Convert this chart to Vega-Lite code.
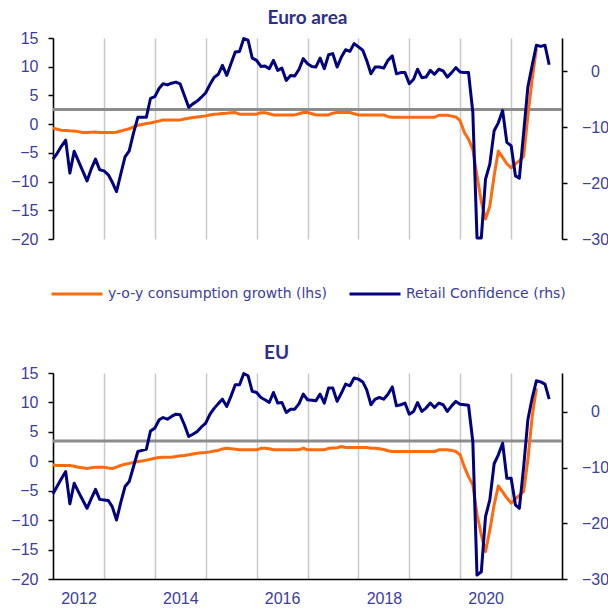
{
"$schema": "https://vega.github.io/schema/vega-lite/v6.json",
"background": "white",
"padding": {"left": 5, "top": 9, "right": 0, "bottom": 0},
"config": {"view": {"stroke": null}, "font": "Liberation Sans"},
"data": {"values": [
{"date":"2012-01-01","ea_cons":-0.7,"ea_conf":-15.7,"eu_cons":-0.65,"eu_conf":-14.7},
{"date":"2012-02-01","ea_cons":-0.9,"ea_conf":-14.6,"eu_cons":-0.7,"eu_conf":-13.3},
{"date":"2012-03-01","ea_cons":-1.05,"ea_conf":-13.4,"eu_cons":-0.7,"eu_conf":-12.0},
{"date":"2012-04-01","ea_cons":-1.1,"ea_conf":-12.3,"eu_cons":-0.72,"eu_conf":-10.7},
{"date":"2012-05-01","ea_cons":-1.15,"ea_conf":-18.2,"eu_cons":-0.72,"eu_conf":-16.5},
{"date":"2012-06-01","ea_cons":-1.18,"ea_conf":-14.3,"eu_cons":-0.85,"eu_conf":-12.8},
{"date":"2012-07-01","ea_cons":-1.3,"ea_conf":-16.0,"eu_cons":-1.0,"eu_conf":-14.3},
{"date":"2012-08-01","ea_cons":-1.45,"ea_conf":-17.8,"eu_cons":-1.1,"eu_conf":-15.8},
{"date":"2012-09-01","ea_cons":-1.45,"ea_conf":-19.6,"eu_cons":-1.23,"eu_conf":-17.3},
{"date":"2012-10-01","ea_cons":-1.4,"ea_conf":-17.5,"eu_cons":-1.1,"eu_conf":-15.6},
{"date":"2012-11-01","ea_cons":-1.35,"ea_conf":-15.7,"eu_cons":-1.0,"eu_conf":-13.9},
{"date":"2012-12-01","ea_cons":-1.45,"ea_conf":-17.6,"eu_cons":-1.0,"eu_conf":-15.7},
{"date":"2013-01-01","ea_cons":-1.47,"ea_conf":-17.8,"eu_cons":-1.0,"eu_conf":-15.8},
{"date":"2013-02-01","ea_cons":-1.47,"ea_conf":-18.5,"eu_cons":-1.15,"eu_conf":-15.9},
{"date":"2013-03-01","ea_cons":-1.47,"ea_conf":-19.8,"eu_cons":-1.23,"eu_conf":-17.0},
{"date":"2013-04-01","ea_cons":-1.4,"ea_conf":-21.5,"eu_cons":-1.0,"eu_conf":-19.4},
{"date":"2013-05-01","ea_cons":-1.2,"ea_conf":-18.4,"eu_cons":-0.7,"eu_conf":-16.3},
{"date":"2013-06-01","ea_cons":-1.0,"ea_conf":-15.3,"eu_cons":-0.5,"eu_conf":-13.4},
{"date":"2013-07-01","ea_cons":-0.8,"ea_conf":-14.2,"eu_cons":-0.35,"eu_conf":-12.5},
{"date":"2013-08-01","ea_cons":-0.5,"ea_conf":-11.0,"eu_cons":-0.2,"eu_conf":-9.8},
{"date":"2013-09-01","ea_cons":-0.2,"ea_conf":-8.2,"eu_cons":-0.05,"eu_conf":-7.1},
{"date":"2013-10-01","ea_cons":-0.05,"ea_conf":-8.2,"eu_cons":0.05,"eu_conf":-6.9},
{"date":"2013-11-01","ea_cons":0.1,"ea_conf":-8.2,"eu_cons":0.2,"eu_conf":-6.7},
{"date":"2013-12-01","ea_cons":0.2,"ea_conf":-4.8,"eu_cons":0.35,"eu_conf":-3.4},
{"date":"2014-01-01","ea_cons":0.4,"ea_conf":-4.5,"eu_cons":0.5,"eu_conf":-2.9},
{"date":"2014-02-01","ea_cons":0.55,"ea_conf":-3.0,"eu_cons":0.65,"eu_conf":-1.4},
{"date":"2014-03-01","ea_cons":0.74,"ea_conf":-2.2,"eu_cons":0.7,"eu_conf":-1.0},
{"date":"2014-04-01","ea_cons":0.74,"ea_conf":-2.4,"eu_cons":0.7,"eu_conf":-1.3},
{"date":"2014-05-01","ea_cons":0.74,"ea_conf":-2.1,"eu_cons":0.7,"eu_conf":-0.8},
{"date":"2014-06-01","ea_cons":0.74,"ea_conf":-1.9,"eu_cons":0.8,"eu_conf":-0.4},
{"date":"2014-07-01","ea_cons":0.74,"ea_conf":-2.2,"eu_cons":0.93,"eu_conf":-0.5},
{"date":"2014-08-01","ea_cons":0.9,"ea_conf":-4.3,"eu_cons":1.0,"eu_conf":-2.3},
{"date":"2014-09-01","ea_cons":1.03,"ea_conf":-6.4,"eu_cons":1.1,"eu_conf":-4.4},
{"date":"2014-10-01","ea_cons":1.15,"ea_conf":-5.8,"eu_cons":1.25,"eu_conf":-4.0},
{"date":"2014-11-01","ea_cons":1.26,"ea_conf":-5.3,"eu_cons":1.38,"eu_conf":-3.5},
{"date":"2014-12-01","ea_cons":1.35,"ea_conf":-4.6,"eu_cons":1.45,"eu_conf":-2.7},
{"date":"2015-01-01","ea_cons":1.44,"ea_conf":-3.8,"eu_cons":1.49,"eu_conf":-2.0},
{"date":"2015-02-01","ea_cons":1.6,"ea_conf":-2.3,"eu_cons":1.6,"eu_conf":-0.4},
{"date":"2015-03-01","ea_cons":1.73,"ea_conf":-1.1,"eu_cons":1.75,"eu_conf":0.6},
{"date":"2015-04-01","ea_cons":1.75,"ea_conf":-0.5,"eu_cons":1.85,"eu_conf":1.5},
{"date":"2015-05-01","ea_cons":1.85,"ea_conf":1.1,"eu_cons":2.1,"eu_conf":2.3},
{"date":"2015-06-01","ea_cons":1.9,"ea_conf":-0.7,"eu_cons":2.23,"eu_conf":1.0},
{"date":"2015-07-01","ea_cons":2.0,"ea_conf":1.4,"eu_cons":2.15,"eu_conf":2.8},
{"date":"2015-08-01","ea_cons":2.02,"ea_conf":3.5,"eu_cons":2.05,"eu_conf":4.9},
{"date":"2015-09-01","ea_cons":1.73,"ea_conf":3.6,"eu_cons":1.95,"eu_conf":4.9},
{"date":"2015-10-01","ea_cons":1.73,"ea_conf":5.9,"eu_cons":1.95,"eu_conf":6.9},
{"date":"2015-11-01","ea_cons":1.73,"ea_conf":5.6,"eu_cons":1.95,"eu_conf":6.5},
{"date":"2015-12-01","ea_cons":1.73,"ea_conf":2.4,"eu_cons":1.95,"eu_conf":3.7},
{"date":"2016-01-01","ea_cons":1.73,"ea_conf":2.0,"eu_cons":1.95,"eu_conf":3.5},
{"date":"2016-02-01","ea_cons":2.0,"ea_conf":0.9,"eu_cons":2.2,"eu_conf":2.6},
{"date":"2016-03-01","ea_cons":2.0,"ea_conf":1.0,"eu_cons":2.2,"eu_conf":2.2},
{"date":"2016-04-01","ea_cons":1.8,"ea_conf":0.5,"eu_cons":2.12,"eu_conf":1.7},
{"date":"2016-05-01","ea_cons":1.61,"ea_conf":2.0,"eu_cons":1.95,"eu_conf":3.5},
{"date":"2016-06-01","ea_cons":1.61,"ea_conf":0.2,"eu_cons":1.95,"eu_conf":1.6},
{"date":"2016-07-01","ea_cons":1.61,"ea_conf":0.6,"eu_cons":1.95,"eu_conf":1.7},
{"date":"2016-08-01","ea_cons":1.61,"ea_conf":-1.6,"eu_cons":1.95,"eu_conf":-0.1},
{"date":"2016-09-01","ea_cons":1.61,"ea_conf":-0.7,"eu_cons":1.95,"eu_conf":0.5},
{"date":"2016-10-01","ea_cons":1.61,"ea_conf":-0.8,"eu_cons":1.95,"eu_conf":0.5},
{"date":"2016-11-01","ea_cons":1.8,"ea_conf":0.4,"eu_cons":1.95,"eu_conf":1.5},
{"date":"2016-12-01","ea_cons":2.02,"ea_conf":2.3,"eu_cons":2.23,"eu_conf":3.2},
{"date":"2017-01-01","ea_cons":2.02,"ea_conf":1.4,"eu_cons":1.95,"eu_conf":2.2},
{"date":"2017-02-01","ea_cons":1.8,"ea_conf":0.9,"eu_cons":1.95,"eu_conf":2.1},
{"date":"2017-03-01","ea_cons":1.61,"ea_conf":0.8,"eu_cons":1.95,"eu_conf":2.0},
{"date":"2017-04-01","ea_cons":1.61,"ea_conf":2.4,"eu_cons":1.95,"eu_conf":3.2},
{"date":"2017-05-01","ea_cons":1.61,"ea_conf":0.5,"eu_cons":1.95,"eu_conf":1.6},
{"date":"2017-06-01","ea_cons":1.61,"ea_conf":3.0,"eu_cons":2.2,"eu_conf":4.3},
{"date":"2017-07-01","ea_cons":1.9,"ea_conf":3.2,"eu_cons":2.25,"eu_conf":4.3},
{"date":"2017-08-01","ea_cons":2.02,"ea_conf":0.8,"eu_cons":2.3,"eu_conf":1.9},
{"date":"2017-09-01","ea_cons":2.02,"ea_conf":2.6,"eu_cons":2.5,"eu_conf":3.4},
{"date":"2017-10-01","ea_cons":2.02,"ea_conf":3.9,"eu_cons":2.34,"eu_conf":5.0},
{"date":"2017-11-01","ea_cons":2.02,"ea_conf":3.6,"eu_cons":2.34,"eu_conf":4.7},
{"date":"2017-12-01","ea_cons":1.8,"ea_conf":5.0,"eu_cons":2.34,"eu_conf":6.1},
{"date":"2018-01-01","ea_cons":1.61,"ea_conf":4.4,"eu_cons":2.34,"eu_conf":5.9},
{"date":"2018-02-01","ea_cons":1.61,"ea_conf":3.8,"eu_cons":2.34,"eu_conf":5.4},
{"date":"2018-03-01","ea_cons":1.61,"ea_conf":2.0,"eu_cons":2.34,"eu_conf":4.0},
{"date":"2018-04-01","ea_cons":1.61,"ea_conf":-0.4,"eu_cons":2.23,"eu_conf":1.3},
{"date":"2018-05-01","ea_cons":1.61,"ea_conf":0.8,"eu_cons":2.2,"eu_conf":2.3},
{"date":"2018-06-01","ea_cons":1.61,"ea_conf":0.8,"eu_cons":2.12,"eu_conf":2.6},
{"date":"2018-07-01","ea_cons":1.61,"ea_conf":0.6,"eu_cons":2.0,"eu_conf":2.3},
{"date":"2018-08-01","ea_cons":1.3,"ea_conf":2.0,"eu_cons":1.78,"eu_conf":3.2},
{"date":"2018-09-01","ea_cons":1.2,"ea_conf":2.8,"eu_cons":1.66,"eu_conf":4.5},
{"date":"2018-10-01","ea_cons":1.2,"ea_conf":-0.4,"eu_cons":1.66,"eu_conf":1.1},
{"date":"2018-11-01","ea_cons":1.2,"ea_conf":-0.2,"eu_cons":1.66,"eu_conf":1.3},
{"date":"2018-12-01","ea_cons":1.2,"ea_conf":-0.2,"eu_cons":1.66,"eu_conf":1.6},
{"date":"2019-01-01","ea_cons":1.2,"ea_conf":-2.2,"eu_cons":1.66,"eu_conf":-0.4},
{"date":"2019-02-01","ea_cons":1.2,"ea_conf":-1.4,"eu_cons":1.66,"eu_conf":0.1},
{"date":"2019-03-01","ea_cons":1.2,"ea_conf":0.4,"eu_cons":1.66,"eu_conf":1.7},
{"date":"2019-04-01","ea_cons":1.2,"ea_conf":-1.1,"eu_cons":1.66,"eu_conf":0.1},
{"date":"2019-05-01","ea_cons":1.2,"ea_conf":-1.0,"eu_cons":1.66,"eu_conf":0.7},
{"date":"2019-06-01","ea_cons":1.2,"ea_conf":0.2,"eu_cons":1.66,"eu_conf":1.6},
{"date":"2019-07-01","ea_cons":1.2,"ea_conf":-0.5,"eu_cons":1.66,"eu_conf":0.8},
{"date":"2019-08-01","ea_cons":1.55,"ea_conf":0.4,"eu_cons":1.95,"eu_conf":1.6},
{"date":"2019-09-01","ea_cons":1.55,"ea_conf":0.1,"eu_cons":1.95,"eu_conf":1.3},
{"date":"2019-10-01","ea_cons":1.55,"ea_conf":-1.0,"eu_cons":1.95,"eu_conf":0.1},
{"date":"2019-11-01","ea_cons":1.4,"ea_conf":-0.2,"eu_cons":1.85,"eu_conf":1.1},
{"date":"2019-12-01","ea_cons":1.26,"ea_conf":0.7,"eu_cons":1.66,"eu_conf":1.9},
{"date":"2020-01-01","ea_cons":0.6,"ea_conf":-0.1,"eu_cons":1.1,"eu_conf":1.4},
{"date":"2020-02-01","ea_cons":-1.5,"ea_conf":-0.2,"eu_cons":-1.0,"eu_conf":1.3},
{"date":"2020-03-01","ea_cons":-2.6,"ea_conf":-0.2,"eu_cons":-2.6,"eu_conf":1.2},
{"date":"2020-04-01","ea_cons":-4.4,"ea_conf":-7.3,"eu_cons":-4.0,"eu_conf":-5.3},
{"date":"2020-05-01","ea_cons":-9.0,"ea_conf":-29.8,"eu_cons":-9.0,"eu_conf":-29.3},
{"date":"2020-06-01","ea_cons":-13.5,"ea_conf":-29.8,"eu_cons":-12.5,"eu_conf":-28.7},
{"date":"2020-07-01","ea_cons":-16.5,"ea_conf":-19.3,"eu_cons":-15.35,"eu_conf":-18.8},
{"date":"2020-08-01","ea_cons":-14.3,"ea_conf":-16.6,"eu_cons":-11.7,"eu_conf":-15.8},
{"date":"2020-09-01","ea_cons":-9.0,"ea_conf":-10.6,"eu_cons":-7.4,"eu_conf":-9.3},
{"date":"2020-10-01","ea_cons":-4.7,"ea_conf":-9.2,"eu_cons":-4.2,"eu_conf":-7.7},
{"date":"2020-11-01","ea_cons":-5.8,"ea_conf":-7.0,"eu_cons":-5.2,"eu_conf":-5.6},
{"date":"2020-12-01","ea_cons":-6.9,"ea_conf":-12.7,"eu_cons":-6.2,"eu_conf":-11.9},
{"date":"2021-01-01","ea_cons":-7.6,"ea_conf":-13.3,"eu_cons":-7.1,"eu_conf":-11.9},
{"date":"2021-02-01","ea_cons":-6.9,"ea_conf":-18.7,"eu_cons":-6.4,"eu_conf":-16.7},
{"date":"2021-03-01","ea_cons":-6.4,"ea_conf":-19.1,"eu_cons":-5.8,"eu_conf":-17.3},
{"date":"2021-04-01","ea_cons":-5.6,"ea_conf":-10.9,"eu_cons":-5.1,"eu_conf":-9.8},
{"date":"2021-05-01","ea_cons":1.4,"ea_conf":-2.8,"eu_cons":0.25,"eu_conf":-1.4},
{"date":"2021-06-01","ea_cons":7.8,"ea_conf":1.1,"eu_cons":7.6,"eu_conf":2.5},
{"date":"2021-07-01","ea_cons":13.1,"ea_conf":4.7,"eu_cons":12.4,"eu_conf":5.6},
{"date":"2021-08-01","ea_cons":null,"ea_conf":4.5,"eu_cons":null,"eu_conf":5.4},
{"date":"2021-09-01","ea_cons":null,"ea_conf":4.7,"eu_cons":null,"eu_conf":5.0},
{"date":"2021-10-01","ea_cons":null,"ea_conf":1.2,"eu_cons":null,"eu_conf":2.3}
]},
"spacing": 97,
"vconcat": [
{
 "width": 509, "height": 201,
 "title": {"text": "Euro area", "font": "Lato", "fontSize": 19, "fontWeight": "bold", "color": "#2E2E8B", "offset": 2},
 "layer": [
  {"layer": [
    {"data": {"values": [{"avg": 2.54}]},
     "mark": {"type": "rule", "color": "#8C8C8C", "strokeWidth": 3},
     "encoding": {"y": {"field": "avg", "type": "quantitative", "scale": {"domain": [-20, 15], "nice": false, "zero": false},
        "axis": {"orient": "left", "values": [-20,-15,-10,-5,0,5,10,15], "title": null, "grid": false, "domainColor": "#000000", "domainWidth": 1.5, "tickColor": "#000000", "tickWidth": 1.5, "tickSize": 5, "labelFontSize": 16, "labelColor": "#3C3C9E", "labelPadding": 10, "minExtent": 48, "maxExtent": 48, "labelFont": "Liberation Sans"}}}},
    {"mark": {"type": "line", "strokeWidth": 3, "strokeJoin": "round"},
     "encoding": {
      "x": {"field": "date", "type": "temporal", "scale": {"domain": [{"year": 2012, "month": 1, "date": 1}, {"year": 2022, "month": 1, "date": 1}]},
        "axis": {"values": [{"year":2012,"month":1,"date":1},{"year":2013,"month":1,"date":1},{"year":2014,"month":1,"date":1},{"year":2015,"month":1,"date":1},{"year":2016,"month":1,"date":1},{"year":2017,"month":1,"date":1},{"year":2018,"month":1,"date":1},{"year":2019,"month":1,"date":1},{"year":2020,"month":1,"date":1},{"year":2021,"month":1,"date":1},{"year":2022,"month":1,"date":1}], "grid": true, "gridColor": "#C8C8C8", "gridWidth": 1.5, "labels": false, "ticks": false, "domain": false, "title": null}},
      "y": {"field": "ea_cons", "type": "quantitative", "scale": {"domain": [-20, 15], "nice": false, "zero": false},
        "axis": {"orient": "left", "values": [-20,-15,-10,-5,0,5,10,15], "title": null, "grid": false, "domainColor": "#000000", "domainWidth": 1.5, "tickColor": "#000000", "tickWidth": 1.5, "tickSize": 5, "labelFontSize": 16, "labelColor": "#3C3C9E", "labelPadding": 10, "minExtent": 48, "maxExtent": 48, "labelFont": "Liberation Sans"}},
      "color": {"datum": "y-o-y consumption growth (lhs)", "type": "nominal",
        "scale": {"domain": ["y-o-y consumption growth (lhs)", "Retail Confidence (rhs)"], "range": ["#FF6A0D", "#000080"]},
        "legend": {"orient": "none", "legendX": -3, "legendY": 229, "direction": "horizontal", "title": null, "symbolType": "stroke", "symbolSize": 2600, "symbolStrokeWidth": 3, "labelFont": "DejaVu Sans", "labelFontSize": 14, "labelLimit": 400, "labelColor": "#3C3C9E", "columnPadding": 16, "labelOffset": 4}}
     }}
  ]},
  {"mark": {"type": "line", "strokeWidth": 3, "strokeJoin": "round"},
   "encoding": {
    "x": {"field": "date", "type": "temporal"},
    "y": {"field": "ea_conf", "type": "quantitative", "scale": {"domain": [-30, 6], "nice": false, "zero": false},
      "axis": {"orient": "right", "values": [-30,-20,-10,0], "title": null, "grid": false, "domainColor": "#000000", "domainWidth": 1.5, "tickColor": "#000000", "tickWidth": 1.5, "tickSize": 5, "labelFontSize": 16, "labelColor": "#3C3C9E", "labelAlign": "center", "labelPadding": 28, "labelFont": "Liberation Sans"}},
    "color": {"datum": "Retail Confidence (rhs)", "type": "nominal"}
   }}
 ],
 "resolve": {"scale": {"y": "independent"}, "axis": {"y": "independent"}}
},
{
 "width": 509, "height": 206,
 "title": {"text": "EU", "font": "Lato", "fontSize": 19, "fontWeight": "bold", "color": "#2E2E8B", "offset": 2, "dx": -31},
 "layer": [
  {"layer": [
    {"data": {"values": [{"avg": 3.43}]},
     "mark": {"type": "rule", "color": "#8C8C8C", "strokeWidth": 3},
     "encoding": {"y": {"field": "avg", "type": "quantitative", "scale": {"domain": [-20, 15], "nice": false, "zero": false},
        "axis": {"orient": "left", "values": [-20,-15,-10,-5,0,5,10,15], "title": null, "grid": false, "domainColor": "#000000", "domainWidth": 1.5, "tickColor": "#000000", "tickWidth": 1.5, "tickSize": 5, "labelFontSize": 16, "labelColor": "#3C3C9E", "labelPadding": 10, "minExtent": 48, "maxExtent": 48, "labelFont": "Liberation Sans"}}}},
    {"mark": {"type": "line", "strokeWidth": 3, "strokeJoin": "round", "color": "#FF6A0D"},
     "encoding": {
      "x": {"field": "date", "type": "temporal", "scale": {"domain": [{"year": 2012, "month": 1, "date": 1}, {"year": 2022, "month": 1, "date": 1}]},
        "axis": {"values": [{"year":2012,"month":1,"date":1},{"year":2013,"month":1,"date":1},{"year":2014,"month":1,"date":1},{"year":2015,"month":1,"date":1},{"year":2016,"month":1,"date":1},{"year":2017,"month":1,"date":1},{"year":2018,"month":1,"date":1},{"year":2019,"month":1,"date":1},{"year":2020,"month":1,"date":1},{"year":2021,"month":1,"date":1},{"year":2022,"month":1,"date":1}], "grid": true, "gridColor": "#C8C8C8", "gridWidth": 1.5, "ticks": false, "domain": true, "domainColor": "#000000", "domainWidth": 1.5, "title": null,
          "labelExpr": "(year(datum.value) % 2 == 0 && year(datum.value) < 2021) ? '' + year(datum.value) : ''", "labelOffset": 25.5, "labelFlush": false, "labelOverlap": false, "labelFontSize": 16, "labelColor": "#3C3C9E", "labelPadding": 11, "labelFont": "Liberation Sans"}},
      "y": {"field": "eu_cons", "type": "quantitative", "scale": {"domain": [-20, 15], "nice": false, "zero": false},
        "axis": {"orient": "left", "values": [-20,-15,-10,-5,0,5,10,15], "title": null, "grid": false, "domainColor": "#000000", "domainWidth": 1.5, "tickColor": "#000000", "tickWidth": 1.5, "tickSize": 5, "labelFontSize": 16, "labelColor": "#3C3C9E", "labelPadding": 10, "minExtent": 48, "maxExtent": 48, "labelFont": "Liberation Sans"}}
     }}
  ]},
  {"mark": {"type": "line", "strokeWidth": 3, "strokeJoin": "round", "color": "#000080"},
   "encoding": {
    "x": {"field": "date", "type": "temporal"},
    "y": {"field": "eu_conf", "type": "quantitative", "scale": {"domain": [-30, 7], "nice": false, "zero": false},
      "axis": {"orient": "right", "values": [-30,-20,-10,0], "title": null, "grid": false, "domainColor": "#000000", "domainWidth": 1.5, "tickColor": "#000000", "tickWidth": 1.5, "tickSize": 5, "labelFontSize": 16, "labelColor": "#3C3C9E", "labelAlign": "center", "labelPadding": 28, "labelFont": "Liberation Sans"}}
   }}
 ],
 "resolve": {"scale": {"y": "independent"}, "axis": {"y": "independent"}}
}
]
}
